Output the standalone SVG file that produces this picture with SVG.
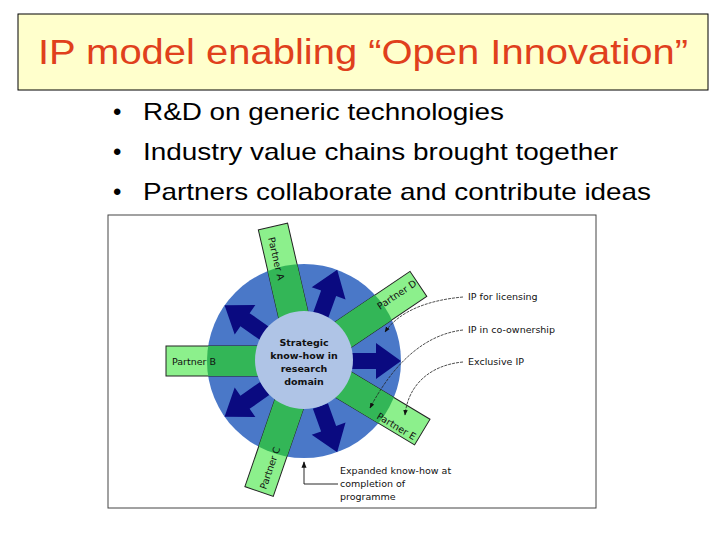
<svg xmlns="http://www.w3.org/2000/svg" width="720" height="540" viewBox="0 0 720 540">
<style>
.b{font-family:"Liberation Sans",Arial,sans-serif;font-size:24px;fill:#000}
.l{font-family:"DejaVu Sans",sans-serif;font-size:9.5px;fill:#111}
.p{font-family:"DejaVu Sans",sans-serif;font-size:9.5px;fill:#111}
.band{fill:#8CF08C;stroke:#222;stroke-width:1}
.bandin{fill:#33B657}
.arr{fill:#0A0A80}
.cur{fill:none;stroke:#222;stroke-width:0.8;stroke-dasharray:3 1}
</style>
<defs>
<clipPath id="cc"><circle cx="304" cy="361" r="97"/></clipPath>
<rect id="bd" x="0" y="-15" width="138" height="30"/>
<polygon id="ar" points="48,-8 72,-8 72,-18 97,0 72,18 72,8 48,8"/>
<marker id="ah" viewBox="0 0 10 10" refX="9" refY="5" markerWidth="7" markerHeight="7" orient="auto"><path d="M0,1 L10,5 L0,9 z" fill="#111"/></marker>
</defs>
<rect width="720" height="540" fill="#fff"/>
<g id="title">
<rect x="18" y="14" width="690" height="76" fill="#FFFFCC" stroke="#000" stroke-width="1"/>
<text x="38" y="64" textLength="650" lengthAdjust="spacingAndGlyphs" font-family="Liberation Sans,Arial,sans-serif" font-size="35" fill="#E0401C">IP model enabling “Open Innovation”</text>
</g>
<g id="bullets" class="b">
<text x="113" y="120">•</text><text x="143" y="120" textLength="361" lengthAdjust="spacingAndGlyphs">R&amp;D on generic technologies</text>
<text x="113" y="160">•</text><text x="143" y="160" textLength="475" lengthAdjust="spacingAndGlyphs">Industry value chains brought together</text>
<text x="113" y="200">•</text><text x="143" y="200" textLength="508" lengthAdjust="spacingAndGlyphs">Partners collaborate and contribute ideas</text>
</g>
<rect x="108" y="215" width="488" height="293" fill="#fff" stroke="#444" stroke-width="1"/>
<g id="outer"><circle cx="304" cy="361" r="97" fill="#4A78C8"/></g>
<g id="bands" transform="translate(304,361)">
<use href="#bd" class="band" transform="rotate(-103)"/>
<use href="#bd" class="band" transform="rotate(-34)"/>
<use href="#bd" class="band" transform="rotate(180)"/>
<use href="#bd" class="band" transform="rotate(31)"/>
<use href="#bd" class="band" transform="rotate(109)"/>
</g>
<g clip-path="url(#cc)"><g transform="translate(304,361)">
<use href="#bd" class="bandin" transform="rotate(-103)"/>
<use href="#bd" class="bandin" transform="rotate(-34)"/>
<use href="#bd" class="bandin" transform="rotate(180)"/>
<use href="#bd" class="bandin" transform="rotate(31)"/>
<use href="#bd" class="bandin" transform="rotate(109)"/>
</g></g>
<g id="arrows" transform="translate(304,361)">
<use href="#ar" class="arr" transform="rotate(-70)"/>
<use href="#ar" class="arr" transform="rotate(-145)"/>
<use href="#ar" class="arr" transform="rotate(0)"/>
<use href="#ar" class="arr" transform="rotate(145)"/>
<use href="#ar" class="arr" transform="rotate(70)"/>
</g>
<g id="core">
<circle cx="304" cy="360" r="49" fill="#AFC4E6"/>
<text class="p" text-anchor="middle" font-weight="bold"><tspan x="304" y="346">Strategic</tspan><tspan x="304" y="359">know-how in</tspan><tspan x="304" y="372">research</tspan><tspan x="304" y="385">domain</tspan></text>
</g>
<g id="plabels" class="p">
<text transform="translate(268,238) rotate(77)">Partner A</text>
<text transform="translate(380,310) rotate(-34)">Partner D</text>
<text x="172" y="365">Partner B</text>
<text transform="translate(376,418) rotate(31)">Partner E</text>
<text transform="translate(266,490) rotate(-71)">Partner C</text>
</g>
<g id="connectors">
<path class="cur" d="M463,297 C430,300 400,310 385,332" marker-end="url(#ah)"/>
<path class="cur" d="M463,330 C420,335 390,370 370,408" marker-end="url(#ah)"/>
<path class="cur" d="M463,362 C430,365 408,385 405,415" marker-end="url(#ah)"/>
<path fill="none" stroke="#111" stroke-width="0.9" d="M338,484 H304 V462" marker-end="url(#ah)"/>
</g>
<g id="rlabels" class="l">
<text x="468" y="300">IP for licensing</text>
<text x="468" y="333">IP in co-ownership</text>
<text x="468" y="365">Exclusive IP</text>
<text x="340" y="474">Expanded know-how at</text>
<text x="340" y="487">completion of</text>
<text x="340" y="500">programme</text>
</g>
</svg>
